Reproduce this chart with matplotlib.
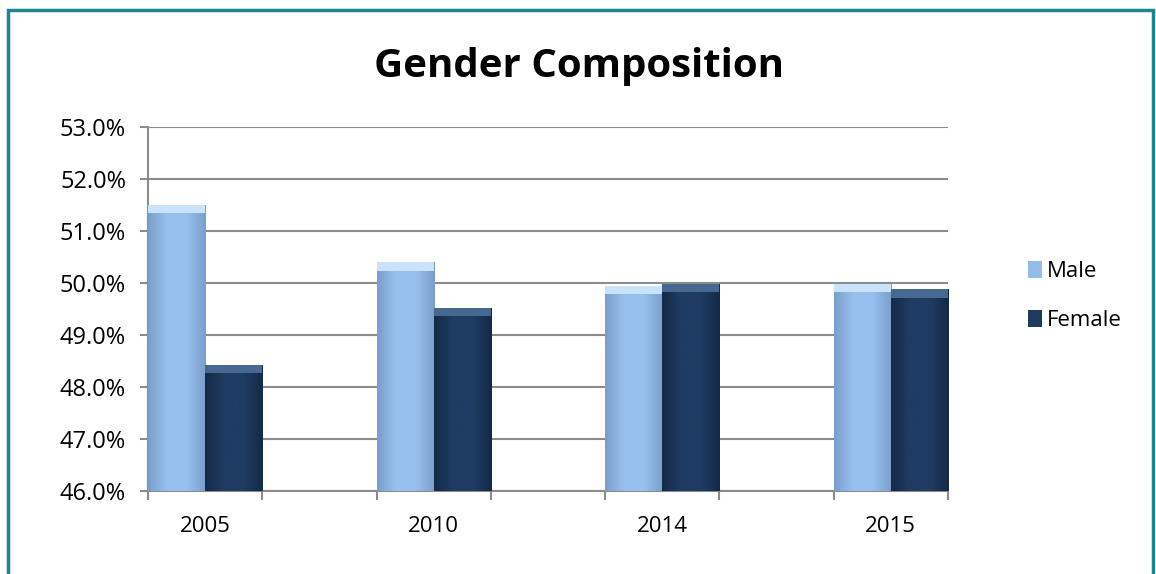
import numpy as np
import matplotlib.pyplot as plt
from matplotlib.patches import Rectangle
from matplotlib.ticker import FuncFormatter

years = ['2005', '2010', '2014', '2015']
male = [51.5, 50.4, 49.95, 49.98]
female = [48.42, 49.52, 49.98, 49.88]

plt.rcParams['font.family'] = ['Open Sans', 'DejaVu Sans']

fig = plt.figure(figsize=(11.56, 5.74), dpi=100)
ax = fig.add_axes([0.128, 0.1446, 0.692, 0.6341])

# groups sit on every other slot, empty slots in between
x = np.arange(len(years)) * 2
w = 0.5

def shade(bars, edge, mid, top):
    cmap = plt.matplotlib.colors.LinearSegmentedColormap.from_list('s', [edge, mid, mid, edge])
    grad = np.linspace(0, 1, 64).reshape(1, -1)
    for b in bars:
        x0, y0 = b.get_x(), b.get_y()
        bw, bh = b.get_width(), b.get_height()
        im = ax.imshow(grad, cmap=cmap, aspect='auto', extent=[x0, x0 + bw, y0, y0 + bh], zorder=3)
        im.set_clip_path(b)
        ax.add_patch(Rectangle((x0, y0 + bh - 0.16), bw, 0.16, color=top, zorder=4, lw=0))

mb = ax.bar(x - w / 2, np.array(male) - 46, w, bottom=46, color='#95bdec', label='Male', zorder=2)
fb = ax.bar(x + w / 2, np.array(female) - 46, w, bottom=46, color='#1e3a5f', label='Female', zorder=2)
shade(mb, '#7b9fcc', '#98c0ef', '#c9e3fb')
shade(fb, '#152a47', '#1f3c63', '#476891')

ax.set_xlim(-0.5, x[-1] + 0.5)
ax.set_ylim(46, 53)
ax.set_yticks(np.arange(46, 53.1, 1))
ax.yaxis.set_major_formatter(FuncFormatter(lambda v, p: f'{v:.1f}%'))
ax.set_xticks(x)
ax.set_xticklabels(years)
ax.set_xticks(np.arange(-0.5, x[-1] + 0.6, 1), minor=True)
ax.tick_params(axis='x', which='major', length=0, pad=18, labelsize=16)
ax.tick_params(axis='x', which='minor', length=6.5, width=1.5, color='#8c8c8c')
ax.tick_params(axis='y', length=5.8, width=1.5, color='#8c8c8c', labelsize=17, pad=10)

ax.grid(axis='y', color='#8c8c8c', lw=1.5, zorder=0)
ax.set_axisbelow(True)
for s in ['top', 'right']:
    ax.spines[s].set_visible(False)
for s in ['left', 'bottom']:
    ax.spines[s].set_color('#8c8c8c')
    ax.spines[s].set_linewidth(1.5)

fig.text(0.501, 0.866, 'Gender Composition', ha='center', va='baseline', fontsize=29, fontweight='bold')

fig.legend(handles=[mb, fb], loc='center left', bbox_to_anchor=(0.889, 0.484), frameon=False,
           fontsize=16, handlelength=0.64, handleheight=0.82, handletextpad=0.23, labelspacing=1.25,
           borderaxespad=0, borderpad=0)

fig.patches.append(Rectangle((0.0065, -0.02), 0.9905, 1.003, transform=fig.transFigure, fill=False,
                             edgecolor='#1f8590', lw=2.5))

fig.savefig('out.png', dpi=100)
